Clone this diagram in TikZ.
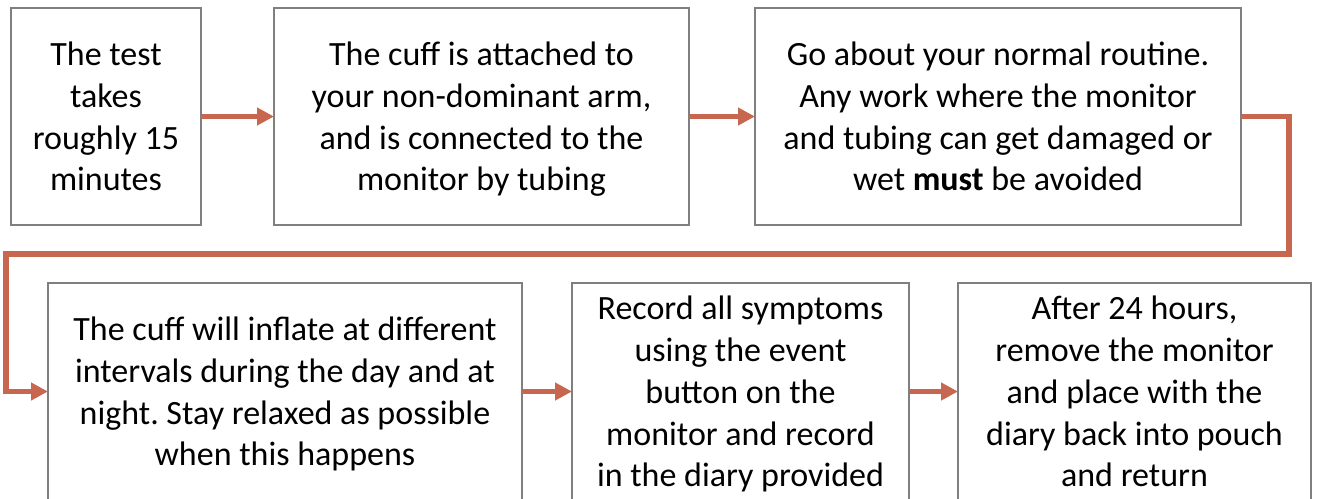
\documentclass[tikz,border=0pt]{standalone}
\usepackage{fontspec}
\setmainfont{Carlito}
\usepackage{tikz}
\usetikzlibrary{calc,positioning,arrows.meta}
\definecolor{boxgray}{HTML}{7F7F7F}
\definecolor{rust}{HTML}{C8674F}
\frenchspacing

\begin{document}
\begin{tikzpicture}
 \tikzstyle{stepbox}=[rectangle,draw=boxgray,line width=1.25pt,outer sep=0pt,inner sep=0pt,align=center,text depth=0pt,font=\fontsize{17}{20.85}\selectfont,minimum height=108.5pt]
 \tikzstyle{flow}=[draw=rust,line width=2.6pt,-{Triangle[length=8.5pt,width=8.5pt]}]
 \useasboundingbox (0,0) rectangle (658.5pt,-249pt);
  \node[stepbox, minimum width=95pt] (b1) at (53pt,-58.25pt) {The test\\takes\\roughly 15\\minutes};
  \node[stepbox, minimum width=207.5pt] (b2) [right=36.5pt of b1] {The cuff is attached to\\your non-dominant arm,\\and is connected to the\\monitor by tubing};
  \node[stepbox, minimum width=243pt] (b3) [right=33pt of b2] {Go about your normal routine.\\Any work where the monitor\\and tubing can get damaged or\\wet \textbf{must} be avoided};
  \node[stepbox, minimum width=237pt] (b4) [below right=29pt and 18.5pt of b1.south west] {The cuff will inflate at different\\intervals during the day and at\\night. Stay relaxed as possible\\when this happens};
  \node[stepbox, minimum width=168.5pt] (b5) [right=25pt of b4] {Record all symptoms\\using the event\\button on the\\monitor and record\\in the diary provided};
  \node[stepbox, minimum width=176.5pt] (b6) [right=24.5pt of b5] {After 24 hours,\\remove the monitor\\and place with the\\diary back into pouch\\and return};
  \coordinate (mid) at ($(b1.south)!.5!(b4.north)$);
  \coordinate[right=24pt of b3.east] (turnR);
  \coordinate[left=21pt of b4.west] (turnL);
\draw[flow] (b1) -- (b2) ;
\draw[flow] (b2) -- (b3) ;
\draw[flow] (b3.east) -- (turnR) |- (turnL |- mid) -- (turnL) -- (b4.west) ;
\draw[flow] (b4) -- (b5) ;
\draw[flow] (b5) -- (b6) ;
\end{tikzpicture}
\end{document}
